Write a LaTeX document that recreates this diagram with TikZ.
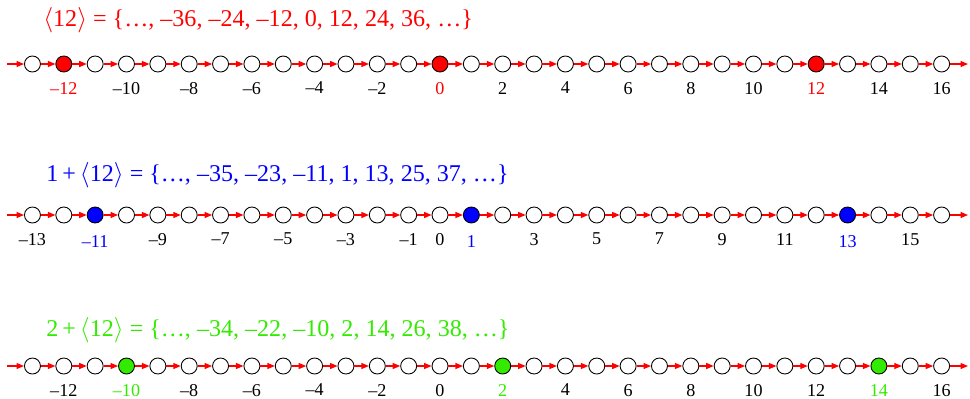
\documentclass[tikz,border=0pt]{standalone}
\usepackage{fontspec}
\setmainfont{Liberation Serif}
\usepackage{xcolor}
\usepackage{tikz}
\usetikzlibrary{arrows.meta,positioning}
\definecolor{setred}{RGB}{255,0,0}
\definecolor{setblue}{RGB}{0,0,255}
\definecolor{setgreen}{RGB}{50,235,0}
\newcommand{\signednum}[1]{\ifnum#1<0 --\number\numexpr0-(#1)\relax\else#1\fi}

\begin{document}
\begin{tikzpicture}[
  elem/.style={circle,draw=black,line width=0.5pt,minimum size=3.2mm,inner sep=0pt},
  arr/.style={-{Triangle[length=1.5mm,width=1.2mm]},line width=0.7pt,draw=setred},
  lbl/.style={font=\fontsize{10.3}{12}\selectfont,inner sep=1pt},
  title/.style={font=\fontsize{13.7}{16}\selectfont,anchor=base west,inner sep=0pt}
]
\useasboundingbox (0,0) rectangle (19.4,-7.96);

% row 1: the subgroup <12>
\node[title,text=setred] (ta) at (0.86,-0.52) {$\langle$12$\rangle$ = \{…, --36, --24, --12, 0, 12, 24, 36, …\}};
\foreach \n in {-13,...,16}{
  \pgfmathtruncatemacro\k{mod(\n+36,12)}
  \ifnum\k=0 \def\fc{setred}\else\def\fc{white}\fi
  \node[elem,fill=\fc] (a\n) at ({8.8+0.627*\n},-1.28) {};
}
\coordinate (aL) at (0.14,-1.28);
\coordinate (aR) at (19.36,-1.28);
\draw[arr] (aL)--(a-13);
\foreach \n [evaluate=\n as \m using int(\n+1)] in {-13,...,15}
  \draw[arr] (a\n)--(a\m);
\draw[arr] (a16)--(aR);
\foreach \n in {-12,-10,...,16}{
  \pgfmathtruncatemacro\k{mod(\n+36,12)}
  \ifnum\k=0 \def\tc{setred}\else\def\tc{black}\fi
  \node[lbl,text=\tc,below=1.5mm of a\n] (la\n) {\signednum{\n}};
}

% row 2: the coset 1+<12>
\node[title,text=setblue] (tb) at (0.92,-3.63) {1\,+\,$\langle$12$\rangle$ = \{…, --35, --23, --11, 1, 13, 25, 37, …\}};
\foreach \n in {-13,...,16}{
  \pgfmathtruncatemacro\k{mod(\n+35,12)}
  \ifnum\k=0 \def\fc{setblue}\else\def\fc{white}\fi
  \node[elem,fill=\fc] (b\n) at ({8.8+0.627*\n},-4.30) {};
}
\coordinate (bL) at (0.14,-4.30);
\coordinate (bR) at (19.36,-4.30);
\draw[arr] (bL)--(b-13);
\foreach \n [evaluate=\n as \m using int(\n+1)] in {-13,...,15}
  \draw[arr] (b\n)--(b\m);
\draw[arr] (b16)--(bR);
\foreach \n in {-13,-11,...,15}{
  \pgfmathtruncatemacro\k{mod(\n+35,12)}
  \ifnum\k=0 \def\tc{setblue}\def\dy{1.9mm}\else\def\tc{black}\def\dy{1.5mm}\fi
  \node[lbl,text=\tc,below=\dy of b\n] (lb\n) {\signednum{\n}};
}
\node[lbl,below=1.5mm of b0] (lb0) {0};

% row 3: the coset 2+<12>
\node[title,text=setgreen] (tc) at (0.92,-6.72) {2\,+\,$\langle$12$\rangle$ = \{…, --34, --22, --10, 2, 14, 26, 38, …\}};
\foreach \n in {-13,...,16}{
  \pgfmathtruncatemacro\k{mod(\n+34,12)}
  \ifnum\k=0 \def\fc{setgreen}\else\def\fc{white}\fi
  \node[elem,fill=\fc] (c\n) at ({8.8+0.627*\n},-7.32) {};
}
\coordinate (cL) at (0.14,-7.32);
\coordinate (cR) at (19.36,-7.32);
\draw[arr] (cL)--(c-13);
\foreach \n [evaluate=\n as \m using int(\n+1)] in {-13,...,15}
  \draw[arr] (c\n)--(c\m);
\draw[arr] (c16)--(cR);
\foreach \n in {-12,-10,...,16}{
  \pgfmathtruncatemacro\k{mod(\n+34,12)}
  \ifnum\k=0 \def\tc{setgreen}\else\def\tc{black}\fi
  \node[lbl,text=\tc,below=1.5mm of c\n] (lc\n) {\signednum{\n}};
}
\end{tikzpicture}
\end{document}
